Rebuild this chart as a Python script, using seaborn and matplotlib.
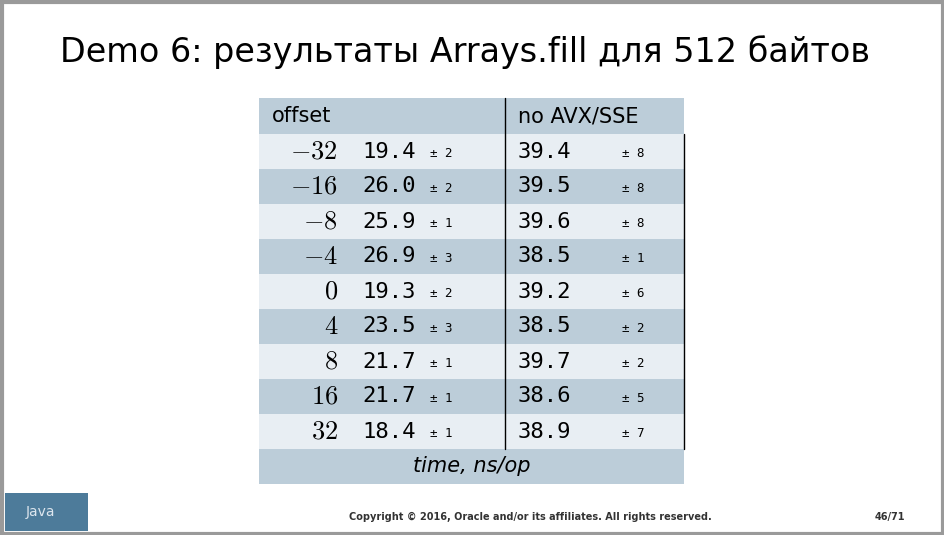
import numpy as np
import seaborn as sns
import matplotlib.pyplot as plt
from matplotlib.patches import Rectangle

sns.set_style('white')
plt.rcParams['font.family'] = ['DejaVu Sans']
plt.rcParams['mathtext.fontset'] = 'cm'
plt.rcParams['text.color'] = 'black'

# ============================ DATA ====================================
offsets = [-32, -16, -8, -4, 0, 4, 8, 16, 32]
avx_time = [19.4, 26.0, 25.9, 26.9, 19.3, 23.5, 21.7, 21.7, 18.4]
avx_err = [2, 2, 1, 3, 2, 3, 1, 1, 1]
noavx_time = [39.4, 39.5, 39.6, 38.5, 39.2, 38.5, 39.7, 38.6, 38.9]
noavx_err = [8, 8, 8, 1, 6, 2, 2, 5, 7]

DARK = '#bccdd9'
LIGHT = '#e8eef3'

fig = plt.figure(figsize=(9.44, 5.35), dpi=100)
ax = fig.add_axes([0, 0, 1, 1])
ax.set_xlim(0, 944)
ax.set_ylim(535, 0)
ax.axis('off')

# slide frame
ax.add_patch(Rectangle((1.5, 1.5), 941, 532, fill=False, ec='#9a9a9a', lw=3))

ax.text(465, 52, 'Demo 6: результаты Arrays.fill для 512 байтов',
        ha='center', va='center', fontsize=24)

# table geometry
x0, x1, xmid = 259, 684, 505
top, row_h = 98, 35.0
n = len(offsets)

ax.add_patch(Rectangle((x0, top), x1 - x0, 36, color=DARK, lw=0))
ax.text(272, top + 18, 'offset', ha='left', va='center', fontsize=15)
ax.text(518, top + 18, 'no AVX/SSE', ha='left', va='center', fontsize=15)

y = top + 36
for i in range(n):
    ax.add_patch(Rectangle((x0, y), x1 - x0, row_h,
                           color=LIGHT if i % 2 == 0 else DARK, lw=0))
    yc = y + row_h / 2
    ax.text(338, yc, '$%d$' % offsets[i], ha='right', va='center',
            fontsize=19)
    ax.text(362, yc, '%.1f' % avx_time[i], ha='left', va='center',
            fontsize=16, family='monospace')
    ax.text(430, yc + 2, '± %d' % avx_err[i], ha='left', va='center',
            fontsize=9, family='monospace')
    ax.text(518, yc, '%.1f' % noavx_time[i], ha='left', va='center',
            fontsize=16, family='monospace')
    ax.text(622, yc + 2, '± %d' % noavx_err[i], ha='left', va='center',
            fontsize=9, family='monospace')
    y += row_h

ax.plot([xmid, xmid], [top, y], color='black', lw=1)
ax.plot([x1, x1], [top + 36, y], color='black', lw=1)

ax.add_patch(Rectangle((x0, y), x1 - x0, 35, color=DARK, lw=0))
ax.text((x0 + x1) / 2, y + 17.5, 'time, ns/op', ha='center', va='center',
        fontsize=15, style='italic')

# footer
ax.add_patch(Rectangle((5, 493), 83, 38, color='#4d7b9a', lw=0))
ax.text(40, 512, 'Java', ha='center', va='center', fontsize=10,
        color='#dde6ee')
ax.text(530, 517, 'Copyright © 2016, Oracle and/or its affiliates. All rights reserved.',
        ha='center', va='center', fontsize=7, weight='bold', color='#333333')
ax.text(890, 517, '46/71', ha='center', va='center', fontsize=7,
        weight='bold', color='#333333')

fig.savefig('out.png', dpi=100)
